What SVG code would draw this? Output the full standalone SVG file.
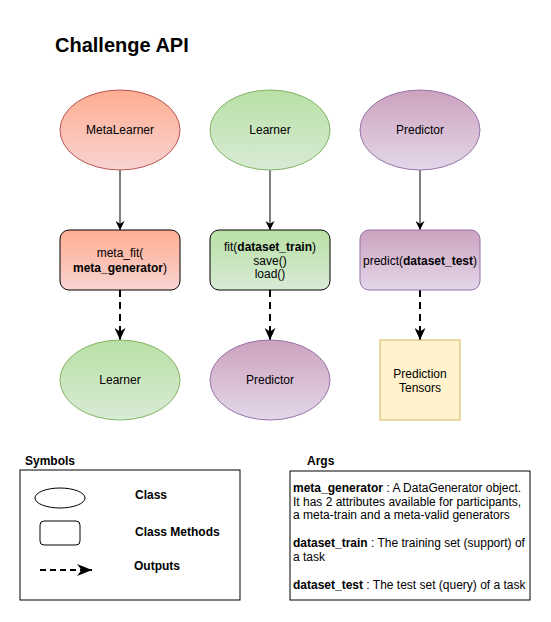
<svg xmlns="http://www.w3.org/2000/svg" width="551" height="622" viewBox="0 0 551 622">
<style>
text{font-family:"Liberation Sans",Arial,Helvetica,sans-serif;font-size:12px;fill:#000}
.c{text-anchor:middle}
.b{font-weight:bold}
.solid{stroke:#000;stroke-width:1;fill:none}
.dash{stroke:#000;stroke-width:2;fill:none;stroke-dasharray:7 5}
</style>
<defs>
<linearGradient id="gRed" x1="0" y1="0" x2="0" y2="1"><stop offset="0" stop-color="#FFAD91"/><stop offset="1" stop-color="#F8D4D2"/></linearGradient>
<linearGradient id="gGreen" x1="0" y1="0" x2="0" y2="1"><stop offset="0" stop-color="#B9E0A5"/><stop offset="1" stop-color="#D8EBD6"/></linearGradient>
<linearGradient id="gPurple" x1="0" y1="0" x2="0" y2="1"><stop offset="0" stop-color="#CDA2BE"/><stop offset="1" stop-color="#E3D7E9"/></linearGradient>
<marker id="arr" markerUnits="userSpaceOnUse" viewBox="0 0 10 10" markerWidth="9" markerHeight="9" refX="10" refY="5" orient="auto"><path d="M0,0 L10,5 L0,10 L3,5 z" fill="#000"/></marker>
<marker id="arrBig" markerUnits="userSpaceOnUse" viewBox="0 0 10 10" preserveAspectRatio="none" markerWidth="12" markerHeight="11" refX="10" refY="5" orient="auto"><path d="M0,0 L10,5 L0,10 L3,5 z" fill="#000"/></marker>
<marker id="arrLeg" markerUnits="userSpaceOnUse" viewBox="0 0 10 10" preserveAspectRatio="none" markerWidth="15" markerHeight="12" refX="10" refY="5" orient="auto"><path d="M0,0 L10,5 L0,10 L3,5 z" fill="#000"/></marker>
</defs>
<rect width="551" height="622" fill="#fff"/>
<text id="title" x="55" y="52" class="b" style="font-size:20px">Challenge API</text>

<g id="connectors">
<line class="solid" x1="120" y1="170" x2="120" y2="230" marker-end="url(#arr)"/>
<line class="solid" x1="270" y1="170" x2="270" y2="230" marker-end="url(#arr)"/>
<line class="solid" x1="420" y1="170" x2="420" y2="230" marker-end="url(#arr)"/>
<line class="dash" x1="120" y1="290" x2="120" y2="340" marker-end="url(#arrBig)"/>
<line class="dash" x1="270" y1="290" x2="270" y2="340" marker-end="url(#arrBig)"/>
<line class="dash" x1="420" y1="290" x2="420" y2="340" marker-end="url(#arrBig)"/>
</g>

<g id="metalearner">
<ellipse cx="120" cy="130" rx="60" ry="40" fill="url(#gRed)" stroke="#B85450"/>
<text x="120" y="134" class="c">MetaLearner</text>
</g>
<g id="learner">
<ellipse cx="270" cy="130" rx="60" ry="40" fill="url(#gGreen)" stroke="#82B366"/>
<text x="270" y="134" class="c">Learner</text>
</g>
<g id="predictor">
<ellipse cx="420" cy="130" rx="60" ry="40" fill="url(#gPurple)" stroke="#9673A6"/>
<text x="420" y="134" class="c">Predictor</text>
</g>

<g id="meta_fit">
<rect x="60" y="230" width="120" height="60" rx="9" fill="url(#gRed)" stroke="#000"/>
<text x="120" y="257" class="c">meta_fit(</text>
<text x="120" y="272" class="c"><tspan class="b">meta_generator</tspan>)</text>
</g>
<g id="fit">
<rect x="210" y="230" width="120" height="60" rx="9" fill="url(#gGreen)" stroke="#000"/>
<text x="270" y="251" class="c">fit(<tspan class="b">dataset_train</tspan>)</text>
<text x="270" y="265" class="c">save()</text>
<text x="270" y="278" class="c">load()</text>
</g>
<g id="predict">
<rect x="360" y="230" width="120" height="60" rx="9" fill="url(#gPurple)" stroke="#9673A6"/>
<text x="420" y="265" class="c">predict(<tspan class="b">dataset_test</tspan>)</text>
</g>

<g id="learner_out">
<ellipse cx="120" cy="380" rx="60" ry="40" fill="url(#gGreen)" stroke="#82B366"/>
<text x="120" y="384" class="c">Learner</text>
</g>
<g id="predictor_out">
<ellipse cx="270" cy="380" rx="60" ry="40" fill="url(#gPurple)" stroke="#9673A6"/>
<text x="270" y="384" class="c">Predictor</text>
</g>
<g id="tensors">
<rect x="380" y="340" width="80" height="80" fill="#FFF2CC" stroke="#D6B656"/>
<text x="420" y="378" class="c">Prediction</text>
<text x="420" y="392" class="c">Tensors</text>
</g>

<g id="symbols">
<text x="25" y="465" class="b">Symbols</text>
<rect x="20" y="470" width="220" height="130" fill="#fff" stroke="#000"/>
<ellipse cx="60" cy="498" rx="25" ry="10" fill="#fff" stroke="#000"/>
<rect x="40" y="521" width="40" height="24" rx="4" fill="#fff" stroke="#000"/>
<line x1="40" y1="570" x2="92" y2="570" stroke="#000" stroke-width="2" stroke-dasharray="6 4" marker-end="url(#arrLeg)"/>
<text x="135" y="499" class="b">Class</text>
<text x="135" y="536" class="b">Class Methods</text>
<text x="134" y="570" class="b">Outputs</text>
</g>

<g id="args">
<text x="307" y="465" class="b">Args</text>
<rect x="290" y="471" width="240" height="129" fill="#fff" stroke="#000"/>
<text x="293" y="492"><tspan class="b">meta_generator</tspan> : A DataGenerator object.</text>
<text x="293" y="506">It has 2 attributes available for participants,</text>
<text x="293" y="519">a meta-train and a meta-valid generators</text>
<text x="293" y="547"><tspan class="b">dataset_train</tspan> : The training set (support) of</text>
<text x="293" y="561">a task</text>
<text x="293" y="589"><tspan class="b">dataset_test</tspan> : The test set (query) of a task</text>
</g>
</svg>
